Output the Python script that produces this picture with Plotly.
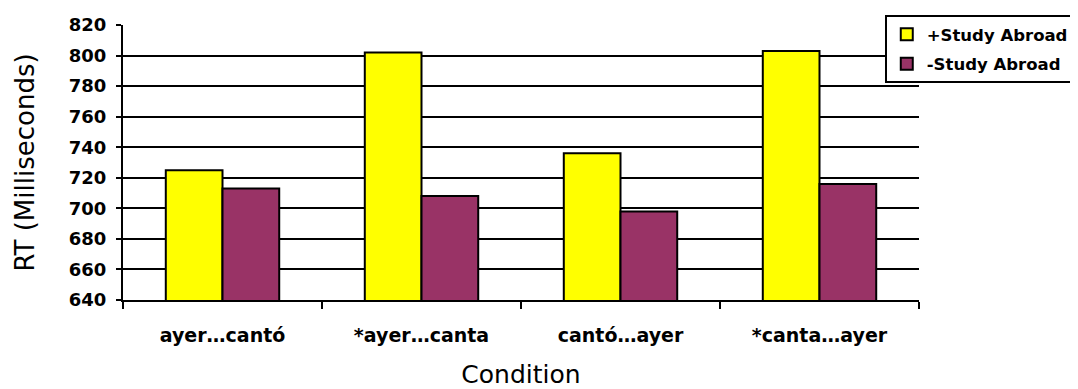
import plotly.graph_objects as go

categories = ["ayer…cantó", "*ayer…canta", "cantó…ayer", "*canta…ayer"]
plus_study = [725, 802, 736, 803]
minus_study = [713, 708, 698, 716]
y_ticks = [640, 660, 680, 700, 720, 740, 760, 780, 800, 820]

BOLD = "DejaVu Sans"

fig = go.Figure()
fig.add_trace(go.Bar(x=categories, y=plus_study, name="+Study Abroad", legendgroup="plus",
                     marker=dict(color="#FFFF00", line=dict(color="black", width=2))))
fig.add_trace(go.Bar(x=categories, y=minus_study, name="-Study Abroad", legendgroup="minus",
                     marker=dict(color="#993366", line=dict(color="black", width=2))))

# page has an 8px body margin, so the figure is sized/offset to compensate
fig.update_layout(
    width=1070, height=381,
    margin=dict(l=115, r=159, t=17, b=89, autoexpand=False),
    plot_bgcolor="white", paper_bgcolor="white",
    barmode="group", bargap=0.43, bargroupgap=0,
    font=dict(family="DejaVu Sans, sans-serif", color="black"),
    legend=dict(x=0.957, y=1.036, xanchor="left", yanchor="top",
                bordercolor="black", borderwidth=2, bgcolor="white",
                font=dict(size=16.5, family=BOLD, weight="bold"),
                itemwidth=30, tracegroupgap=5),
    showlegend=True,
)
fig.update_xaxes(
    type="category", tickson="boundaries", ticks="outside", ticklen=7, tickwidth=2,
    tickcolor="black", showline=True, linecolor="black", linewidth=2,
    tickfont=dict(size=19, family=BOLD, weight="bold"),
    title=dict(text="Condition", font=dict(size=25, family="DejaVu Sans"), standoff=25),
    ticklabelstandoff=17,
)
fig.update_yaxes(
    range=[640, 820], tickvals=y_ticks, ticks="outside", ticklen=5, tickwidth=2,
    tickcolor="black", showline=True, linecolor="black", linewidth=2,
    showgrid=True, gridcolor="black", gridwidth=2, zeroline=False,
    tickfont=dict(size=18, family=BOLD, weight="bold"),
    ticklabelstandoff=6,
    title=dict(text="RT (Milliseconds)", font=dict(size=26, family="DejaVu Sans"), standoff=27),
)

fig.write_html("out.html")
